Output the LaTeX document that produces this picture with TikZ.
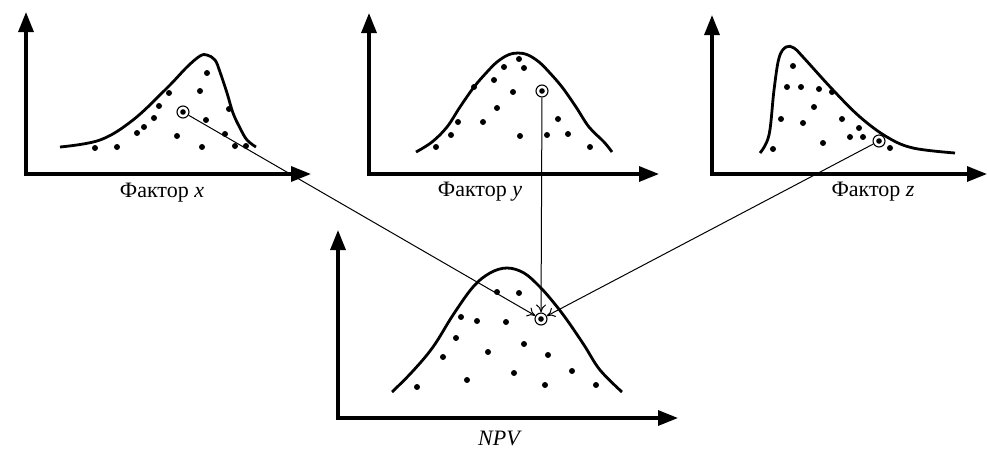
\documentclass[tikz,border=0pt]{standalone}
\usepackage{fontspec}
\setmainfont{Liberation Serif}
\usetikzlibrary{arrows.meta}
\tikzset{
  axis/.style={line width=3.2pt, line join=miter, {Triangle[length=20pt,width=15pt]}-{Triangle[length=20pt,width=15pt]}},
  curve/.style={line width=2.8pt, smooth, tension=0.6},
  dot/.style={circle, fill, inner sep=0pt, minimum size=6pt},
  ring/.style={circle, draw, line width=1.1pt, inner sep=0pt, minimum size=12pt},
  link/.style={line width=1pt, -{To[length=8pt,width=10pt]}},
  lab/.style={font=\fontsize{22}{26}\selectfont, inner sep=0pt}
}
\begin{document}
\begin{tikzpicture}[x=1pt,y=-1pt]
\useasboundingbox (0,0) rectangle (987,448);
% ---------- panel x ----------
\draw[axis] (26,12) -- (26,174) -- (311,174);
\draw[curve] plot coordinates {(60,147) (100,140) (133,120) (167,88) (187,67) (200,56) (207,55) (215,60) (220,72) (227,93) (233,113) (240,128) (247,140) (256,147)};
\foreach \p in {(95,148),(117,147),(137,133),(144,127),(154,118),(159,106),(169,93),(177,136),(200,91),(207,73),(206,120),(229,109),(225,134),(202,147),(235,146),(246,146)}
  \node[dot] at \p {};
\node[ring] (cx) at (183,112) {};
\fill (cx.center) circle (2.8pt);
\node[lab] (lx) at (162,193) {Фактор \textit{x}};
% ---------- panel y ----------
\draw[axis] (369,13) -- (369,174) -- (659,174);
\draw[curve] plot coordinates {(416,152) (432,142) (447,127) (460,107) (474,87) (487,72) (497,62) (508,55) (518,53) (528,55) (539,62) (549,72) (562,87) (576,107) (589,127) (604,142) (612,152)};
\foreach \p in {(436,147),(451,135),(458,122),(474,87),(483,122),(494,80),(497,108),(504,67),(513,92),(519,59),(524,68),(520,136),(547,135),(558,119),(568,134),(590,147)}
  \node[dot] at \p {};
\node[ring] (cy) at (542,91) {};
\fill (cy.center) circle (2.8pt);
\node[lab] (ly) at (480,192) {Фактор \textit{y}};
% ---------- panel z ----------
\draw[axis] (712,15) -- (712,174) -- (987,174);
\draw[curve] plot coordinates {(760,153) (769,135) (774,90) (779,58) (786,47) (794,48) (803,57) (833,90) (860,117) (887,137) (913,148) (955,153)};
\foreach \p in {(773,149),(781,119),(787,87),(793,66),(801,87),(803,123),(814,107),(819,89),(823,143),(832,92),(842,119),(850,137),(859,128),(863,137),(890,148)}
  \node[dot] at \p {};
\node[ring] (cz) at (879,141) {};
\fill (cz.center) circle (2.8pt);
\node[lab] (lz) at (873,192) {Фактор \textit{z}};
% ---------- panel NPV ----------
\draw[axis] (338,230) -- (338,418) -- (678,418);
\draw[curve] plot coordinates {(392,392) (412,372) (433,347) (453,315) (473,287) (490,273) (507,268) (524,273) (540,287) (554,303) (567,320) (584,345) (600,370) (622,392)};
\foreach \p in {(497,292),(519,293),(461,317),(477,321),(506,322),(456,338),(488,352),(524,344),(443,357),(548,355),(514,373),(467,380),(572,371),(417,387),(545,385),(596,385)}
  \node[dot] at \p {};
\node[ring] (cn) at (541,319) {};
\fill (cn.center) circle (2.8pt);
\node[lab] (ln) at (500,438) {\textit{NPV}};
% ---------- connectors ----------
\draw[link] (cx) -- (cn);
\draw[link] (cy) -- (cn);
\draw[link] (cz) -- (cn);
\end{tikzpicture}
\end{document}
